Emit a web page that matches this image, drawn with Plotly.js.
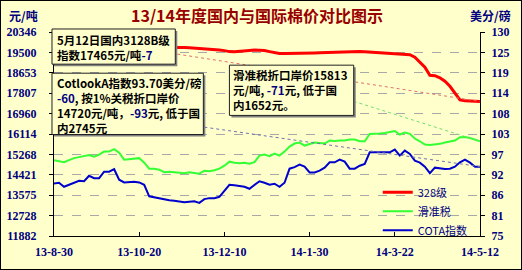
<!DOCTYPE html>
<html><head><meta charset="utf-8">
<script src="https://cdn.plot.ly/plotly-3.0.1.min.js"></script>
<style>
html,body{margin:0;padding:0;background:#FFFFCC;}
#wrap{width:520px;height:268px;border:1px solid #000;}
#chart{width:520px;height:268px;}
</style></head>
<body><div id="wrap"><div id="chart"></div></div>
<script>
const dates = ['2013-08-30','2013-09-02','2013-09-05','2013-09-08','2013-09-11','2013-09-14','2013-09-17','2013-09-20','2013-09-23','2013-09-26','2013-09-29','2013-10-02','2013-10-05','2013-10-08','2013-10-11','2013-10-14','2013-10-17','2013-10-20','2013-10-23','2013-10-26','2013-10-29','2013-11-01','2013-11-04','2013-11-07','2013-11-10','2013-11-13','2013-11-16','2013-11-19','2013-11-22','2013-11-25','2013-11-28','2013-12-01','2013-12-04','2013-12-07','2013-12-10','2013-12-13','2013-12-16','2013-12-19','2013-12-22','2013-12-25','2013-12-28','2013-12-31','2014-01-03','2014-01-06','2014-01-09','2014-01-12','2014-01-15','2014-01-18','2014-01-21','2014-01-24','2014-01-27','2014-01-30','2014-02-02','2014-02-05','2014-02-08','2014-02-11','2014-02-14','2014-02-17','2014-02-20','2014-02-23','2014-02-26','2014-03-01','2014-03-04','2014-03-07','2014-03-10','2014-03-13','2014-03-16','2014-03-19','2014-03-22','2014-03-25','2014-03-28','2014-03-31','2014-04-03','2014-04-06','2014-04-09','2014-04-12','2014-04-15','2014-04-18','2014-04-21','2014-04-24','2014-04-27','2014-04-30','2014-05-03','2014-05-06','2014-05-09','2014-05-12'];

const grade328 = [19690,19700,19710,19720,19720,19730,19730,19720,19720,19710,19710,19720,19730,19730,19730,19720,19720,19720,19720,19720,19720,19720,19720,19720,19720,
19720,19707,19691,19678,19666,19657,19636,19616,19595,19574,19532,19524,19532,19553,19574,19595,19595,19574,19532,19490,19457,19449,19449,19457,19470,19470,19478,19478,19482,19490,19490,19499,19511,19524,19540,19553,19540,19524,19511,19511,19499,19490,19482,19470,19457,19449,19407,19303,19094,18886,18552,18532,18448,18302,18094,17802,17531,17489,17481,17465,17465];

const slidingTax = [15030,14988,14946,15030,15113,15155,15196,15238,15176,15259,15384,15384,15488,15342,15050,15071,15092,15113,14925,14675,14675,14634,14529,14550,14529,14508,14488,14529,14488,14467,14592,14571,14613,14675,14800,14967,14925,14905,14925,14884,14946,15217,15259,15196,15301,15217,15384,15592,15717,15759,15634,15705,15759,15738,15717,15843,15822,15843,15843,15884,15884,15813,15813,16114,16114,16134,16155,16189,16239,16093,16176,16122,15926,15813,15676,15655,15676,15705,15759,15801,15843,15980,15989,15947,15884,15813];

const cotlookA = [89.17,89.36,88.27,88.82,89.44,89.90,89.76,91.25,90.58,90.58,92.34,92.34,93.01,90.17,89.44,89.49,89.63,89.44,88.82,85.70,85.43,85.02,84.75,84.62,84.48,84.35,84.08,84.21,84.35,83.94,84.94,85.21,85.21,85.57,87.19,88.82,88.68,88.41,88.27,87.73,88.68,89.76,89.36,88.82,89.09,88.27,89.36,93.15,93.56,94.23,93.69,92.15,92.15,92.61,93.42,94.86,94.86,95.59,95.05,93.15,93.15,93.96,94.42,97.57,97.57,97.57,97.57,97.57,98.30,96.67,98.03,97.13,95.32,94.78,93.69,91.93,93.42,93.15,93.07,93.15,93.69,94.86,95.59,94.78,93.69,93.70];

const seriesNames = ['328级','滑准税','COTA指数'];
const xTickVals = ['2013-08-30','2013-10-20','2013-12-10','2014-01-30','2014-03-22','2014-05-12'];
const xTickText = ['13-8-30','13-10-20','13-12-10','14-1-30','14-3-22','14-5-12'];
const yTickVals = [11882,12728.4,13574.8,14421.2,15267.6,16114,16960.4,17806.8,18653.2,19499.6,20346];
const yTickText = ['11882','12728','13575','14421','15268','16114','16960','17807','18653','19500','20346'];
const y2TickVals = [75,80.5,86,91.5,97,102.5,108,113.5,119,124.5,130];
const y2TickText = ['75','81','86','92','97','103','108','114','119','125','130'];

const Y_MIN = 11882, Y_MAX = 20346, Y2_MIN = 75, Y2_MAX = 130;
const L = 54, R = 479, T = 32, B = 235; // image pixel frame of plot area
const px = x => (x - L) / (R - L);
const py = y => (B - y) / (B - T);
const yp = v => (v - Y_MIN) / (Y_MAX - Y_MIN);
const y2p = v => (v - Y2_MIN) / (Y2_MAX - Y2_MIN);

const tickFont = {family:'Liberation Serif, serif', size:12, color:'#000080', weight:'bold'};
const cjk = 'Noto Sans CJK SC, sans-serif';

const traces = [
  {x:dates, y:grade328, name:seriesNames[0], type:'scatter', mode:'lines', line:{color:'#FF0000', width:3}, yaxis:'y'},
  {x:dates, y:slidingTax, name:seriesNames[1], type:'scatter', mode:'lines', line:{color:'#33FF33', width:2}, yaxis:'y'},
  {x:dates, y:cotlookA, name:seriesNames[2], type:'scatter', mode:'lines', line:{color:'#0000CC', width:2}, yaxis:'y2'}
];

function box(x0,y0,x1,y1){
  return [
    {type:'rect', xref:'paper', yref:'paper', x0:px(x0+2), x1:px(x1+2), y0:py(y1+2), y1:py(y0+2), fillcolor:'#808080', line:{width:0}, layer:'above'},
    {type:'rect', xref:'paper', yref:'paper', x0:px(x0), x1:px(x1), y0:py(y1), y1:py(y0), fillcolor:'#FFFFCC', line:{color:'#202020', width:1}, layer:'above'}
  ];
}
const nEnd = dates.length - 1;
const shapes = [
  {type:'line', xref:'paper', yref:'paper', x0:px(177), y0:py(54), x1:1, y1:yp(grade328[nEnd]), line:{color:'#E07070', width:1, dash:'dot'}, layer:'above'},
  {type:'line', xref:'paper', yref:'paper', x0:px(353), y0:py(101), x1:1, y1:yp(slidingTax[nEnd]), line:{color:'#70DD70', width:1, dash:'dot'}, layer:'above'},
  {type:'line', xref:'paper', yref:'paper', x0:px(204), y0:py(126.7), x1:1, y1:y2p(cotlookA[nEnd]), line:{color:'#7070B0', width:1, dash:'dot'}, layer:'above'},
  ...box(52,29,175,64),
  ...box(52,73,203,134),
  ...box(229,65,353,115)
];

const N_ = s => '<span style="color:#000080">' + s + '</span>';
const boxTexts = [
  [56,47,'<b>5月12日国内3128B级<br>指数17465元/吨' + N_('-7') + '</b>'],
  [56,105.5,'<b>CotlookA指数93.70美分/磅<br>' + N_('-60') + ', 按1%关税折口岸价<br>14720元/吨，' + N_('-93') + '元, 低于国<br>内2745元</b>'],
  [232,90,'<b>滑准税折口岸价15813<br>元/吨, ' + N_('-71') + '元, 低于国<br>内1652元。</b>']
];
const annotations = boxTexts.map(([x,y,t]) => ({
  xref:'paper', yref:'paper', x:px(x), y:py(y), xanchor:'left', yanchor:'middle', align:'left',
  text:t, showarrow:false, borderpad:0,
  font:{family:cjk, size:11.5, color:'#000000'}
}));
annotations.push(
  {xref:'paper', yref:'paper', x:px(7), y:py(16), xanchor:'left', yanchor:'middle', text:'<b>元/吨</b>', showarrow:false, font:{family:cjk, size:12, color:'#000080'}},
  {xref:'paper', yref:'paper', x:px(512), y:py(16), xanchor:'right', yanchor:'middle', text:'<b>美分/磅</b>', showarrow:false, font:{family:cjk, size:12, color:'#000080'}}
);

const layout = {
  width:520, height:268,
  margin:{l:53, r:41, t:31, b:33, pad:0},
  paper_bgcolor:'#FFFFCC', plot_bgcolor:'#FFFFCC',
  title:{text:'<b>13/14年度国内与国际棉价对比图示</b>', xref:'container', yref:'container', x:256/520, xanchor:'center', y:1-15/268, yanchor:'middle',
         font:{family:cjk, size:16, color:'#990000'}},
  showlegend:true,
  legend:{x:px(377), y:py(177), xanchor:'left', yanchor:'top', bgcolor:'rgba(0,0,0,0)', borderwidth:0,
          font:{family:cjk, size:11, color:'#000080'}, itemwidth:30, tracegroupgap:0},
  xaxis:{type:'date', range:[dates[0], dates[nEnd]], tickmode:'array', tickvals:xTickVals, ticktext:xTickText,
         ticks:'inside', ticklen:4, tickcolor:'#000', showline:true, linecolor:'#000', linewidth:1,
         showgrid:false, zeroline:false, tickfont:tickFont, ticklabelstandoff:5, fixedrange:true},
  yaxis:{range:[Y_MIN, Y_MAX], tickmode:'array', tickvals:yTickVals, ticktext:yTickText,
         ticks:'outside', ticklen:4, tickcolor:'#000', showline:true, linecolor:'#000', linewidth:1,
         showgrid:true, gridcolor:'#A8A8A8', griddash:'dash', gridwidth:1, zeroline:false, tickfont:tickFont, ticklabelstandoff:10},
  yaxis2:{range:[Y2_MIN, Y2_MAX], overlaying:'y', side:'right', tickmode:'array', tickvals:y2TickVals, ticktext:y2TickText,
          ticks:'outside', ticklen:4, tickcolor:'#000', showline:true, linecolor:'#000', linewidth:1,
          showgrid:false, zeroline:false, tickfont:tickFont, ticklabelstandoff:4},
  shapes:shapes,
  annotations:annotations
};
Plotly.newPlot('chart', traces, layout, {staticPlot:true, displayModeBar:false});
</script></body></html>
